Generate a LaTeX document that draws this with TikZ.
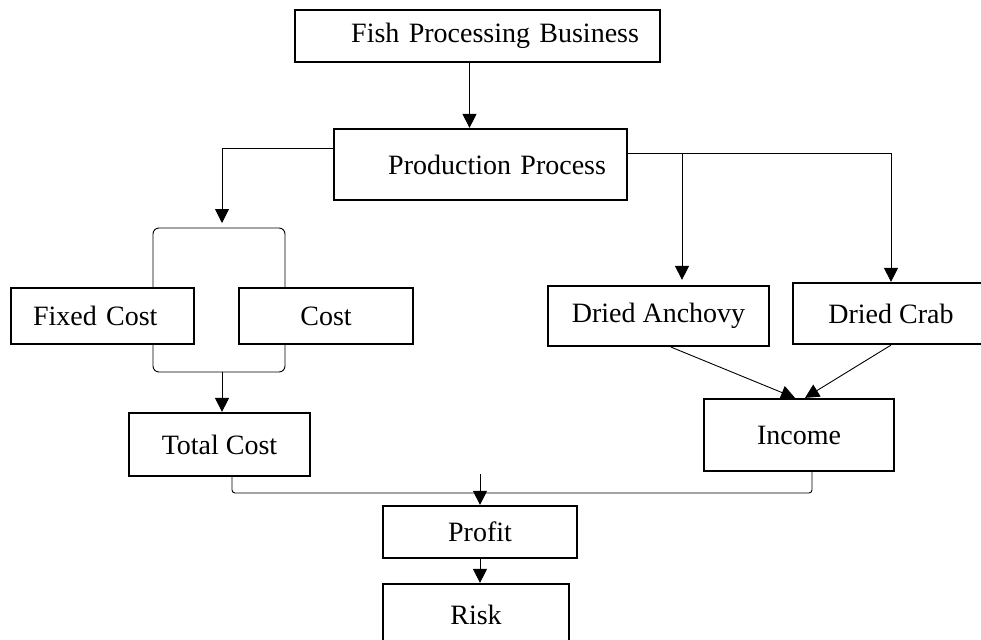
\documentclass[tikz,border=0pt]{standalone}
\usepackage{fontspec}
\setmainfont{Liberation Serif}
\usetikzlibrary{arrows.meta,calc}
\tikzset{box/.style={draw, line width=2.2pt, inner sep=0pt, font=\fontsize{28}{31}\selectfont},
boxr/.style={box, align=right, inner xsep=21pt},
conn/.style={line width=0.9pt},
arr/.style={conn, -{Triangle[length=14pt,width=14pt]}}}
\begin{document}
\begin{tikzpicture}[x=1pt,y=-1pt]
\useasboundingbox (0,0) rectangle (981,639);
\node[boxr, text width=323pt, minimum height=52pt] (fish) at (477.5,36) {Fish Processing Business};
\node[boxr, text width=251pt, minimum height=71pt] (prod) at (480.5,164.5) {Production Process};
\node[box, align=left, text width=139pt, inner xsep=22pt, minimum height=56pt] (fixed) at (102.5,316) {Fixed Cost};
\node[box, minimum width=174pt, minimum height=56pt] (cost) at (326,316) {Cost};
\node[box, minimum width=221pt, minimum height=60pt] (anch) at (658.5,316) {Dried Anchovy};
\node[box, minimum width=196pt, minimum height=61pt] (crab) at (891,313.5) {Dried Crab};
\node[box, minimum width=181pt, minimum height=63pt] (total) at (219.5,444.5) {Total Cost};
\node[box, minimum width=190pt, minimum height=72pt] (income) at (799,435) {Income};
\node[box, minimum width=194pt, minimum height=52pt] (profit) at (480,532) {Profit};
\node[box, minimum width=186pt, minimum height=62pt] (risk) at (476,615) {Risk};
\draw[arr] ([xshift=-8pt]fish.south) -- ([xshift=-8pt]fish.south |- prod.north);
% left branch and the bracket round the costs
\coordinate (ctop) at (222,228);
\coordinate (cbot) at (222,372);
\draw[arr] ([yshift=16.5pt]prod.west) -| ([yshift=5pt]ctop);
\draw[conn, rounded corners=6pt] (153,0 |- fixed.north) -- (153,228) -- (285,228) -- (285,0 |- cost.north);
\draw[conn, rounded corners=6pt] (153,0 |- fixed.south) -- (153,372) -- (285,372) -- (285,0 |- cost.south);
\draw[arr] (cbot) -- (cbot |- total.north);
% right branch
\coordinate (split) at ([yshift=11.5pt]prod.east);
\coordinate (anchin) at ([xshift=23.5pt]anch.north);
\draw[arr] (split) -| (crab.north);
\draw[arr] (anchin |- split) -- ([yshift=5pt]anchin);
\draw[arr] ([xshift=12.5pt]anch.south) -- ([xshift=-4pt]income.north);
\draw[arr] (crab.south) -- ([xshift=6pt]income.north);
% bottom
\coordinate (sum) at (480,493);
\draw[conn, rounded corners=3pt] ([xshift=12.5pt]total.south) |- (sum) -| ([xshift=13pt]income.south);
\draw[arr] ([yshift=31pt]profit.north) -- (profit.north);
\draw[arr] (profit.south) -- (profit.south |- risk.north);
\end{tikzpicture}
\end{document}
